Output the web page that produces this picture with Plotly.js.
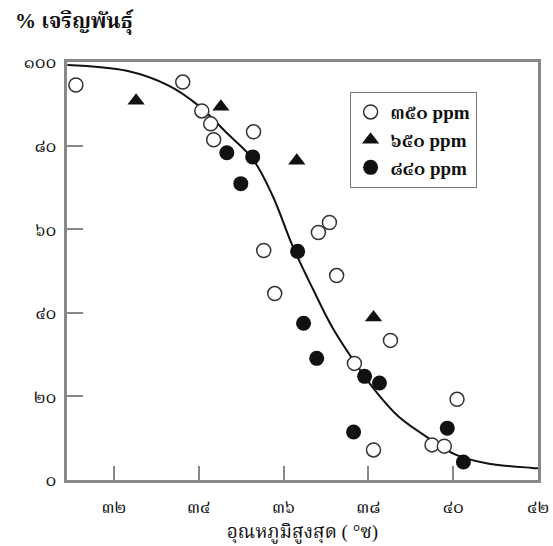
<!DOCTYPE html>
<html>
<head>
<meta charset="utf-8">
<script src="https://cdn.plot.ly/plotly-3.0.1.min.js"></script>
<style>html,body{margin:0;padding:0;background:#fff;}#chart{width:553px;height:546px;}</style>
</head>
<body>
<div id="chart"></div>
<script>
// 350 ppm (open circles)
const x350 = [31.1, 33.62, 34.07, 34.28, 34.35, 35.29, 37.08, 36.82, 35.53, 37.25, 35.79, 38.52, 37.67, 40.09, 38.12, 39.5, 39.79];
const y350 = [94.5, 95.2, 88.3, 85.2, 81.4, 83.3, 61.6, 59.2, 54.9, 48.9, 44.6, 33.4, 27.9, 19.3, 7.2, 8.4, 8.1];
// 650 ppm (triangles)
const x650 = [32.52, 34.52, 36.31, 38.12];
const y650 = [90.7, 89.3, 76.4, 38.9];
// 840 ppm (filled circles)
const x840 = [34.66, 35.27, 34.99, 36.33, 36.47, 36.78, 37.91, 38.26, 37.65, 39.86, 40.24];
const y840 = [78.3, 77.3, 70.9, 54.7, 37.5, 29.1, 24.8, 23.2, 11.5, 12.4, 4.3];
// fitted curve
const xFit = [30.9, 32.3, 33.3, 34.0, 34.66, 35.27, 35.74, 36.21, 36.7, 37.15, 37.86, 38.19, 38.73, 39.5, 40.07, 40.78, 41.86, 42.0];
const yFit = [99.3, 97.9, 94.3, 89.5, 83.0, 76.8, 68.0, 56.0, 45.5, 36.5, 25.5, 21.0, 15.0, 9.5, 6.0, 4.0, 2.9, 2.8];
// tick labels
const xTickVals = [32, 34, 36, 38, 40, 42];
const xTickText = ['๓๒', '๓๔', '๓๖', '๓๘', '๔๐', '๔๒'];
const yTickVals = [0, 20, 40, 60, 80, 100];
const yTickText = ['๐', '๒๐', '๔๐', '๖๐', '๘๐', '๑๐๐'];
const seriesNames = ['๓๕๐ ppm', '๖๕๐ ppm', '๘๔๐ ppm'];

const FONT = 'Liberation Serif, "Noto Serif Thai", "Noto Sans Thai", serif';

const traces = [
  {x: xFit, y: yFit, mode: 'lines', line: {color: '#111', width: 2, shape: 'spline', smoothing: 1.0}, showlegend: false, hoverinfo: 'skip'},
  {x: x350, y: y350, mode: 'markers', name: seriesNames[0],
   marker: {symbol: 'circle', size: 14, color: '#fff', line: {color: '#333', width: 1.5}}},
  {x: x650, y: y650, mode: 'markers', name: seriesNames[1],
   marker: {symbol: 'triangle-up', size: 15, color: '#111', line: {color: '#111', width: 0}}},
  {x: x840, y: y840, mode: 'markers', name: seriesNames[2],
   marker: {symbol: 'circle', size: 15, color: '#111', line: {color: '#111', width: 0}}}
];

const layout = {
  width: 553, height: 546,
  margin: {l: 67, r: 15, t: 62, b: 66},
  paper_bgcolor: '#fff', plot_bgcolor: '#fff',
  font: {family: FONT, color: '#111', size: 15},
  showlegend: true,
  legend: {x: 0.6, y: 0.928, xanchor: 'left', yanchor: 'top',
           bordercolor: '#777', borderwidth: 1, bgcolor: '#fff',
           font: {family: FONT, size: 19, color: '#111', weight: 'bold'}, itemwidth: 30, tracegroupgap: 4},
  xaxis: {range: [30.89, 42], tickvals: xTickVals, ticktext: xTickText,
          ticks: 'inside', ticklen: 14, tickwidth: 2, tickcolor: '#888',
          showline: true, mirror: true, linecolor: '#888', linewidth: 3,
          showgrid: false, zeroline: false, ticklabelstandoff: 8,
          tickfont: {family: FONT, size: 18, color: '#111'},
          title: {text: 'อุณหภูมิสูงสุด ( °ซ)', font: {family: FONT, size: 19, color: '#111'}, standoff: 10}},
  yaxis: {range: [0, 100], tickvals: yTickVals, ticktext: yTickText,
          ticks: 'inside', ticklen: 16, tickwidth: 2, tickcolor: '#888',
          showline: true, mirror: true, linecolor: '#888', linewidth: 3,
          showgrid: false, zeroline: false, ticklabelstandoff: 4,
          tickfont: {family: FONT, size: 18, color: '#111'}},
  annotations: [{text: '<b>% เจริญพันธุ์</b>', xref: 'paper', yref: 'paper', x: -0.115, y: 1.095,
                 xanchor: 'left', yanchor: 'middle', showarrow: false,
                 font: {family: FONT, size: 21, color: '#111'}}]
};

Plotly.newPlot('chart', traces, layout, {displayModeBar: false, staticPlot: true});
</script>
</body>
</html>
